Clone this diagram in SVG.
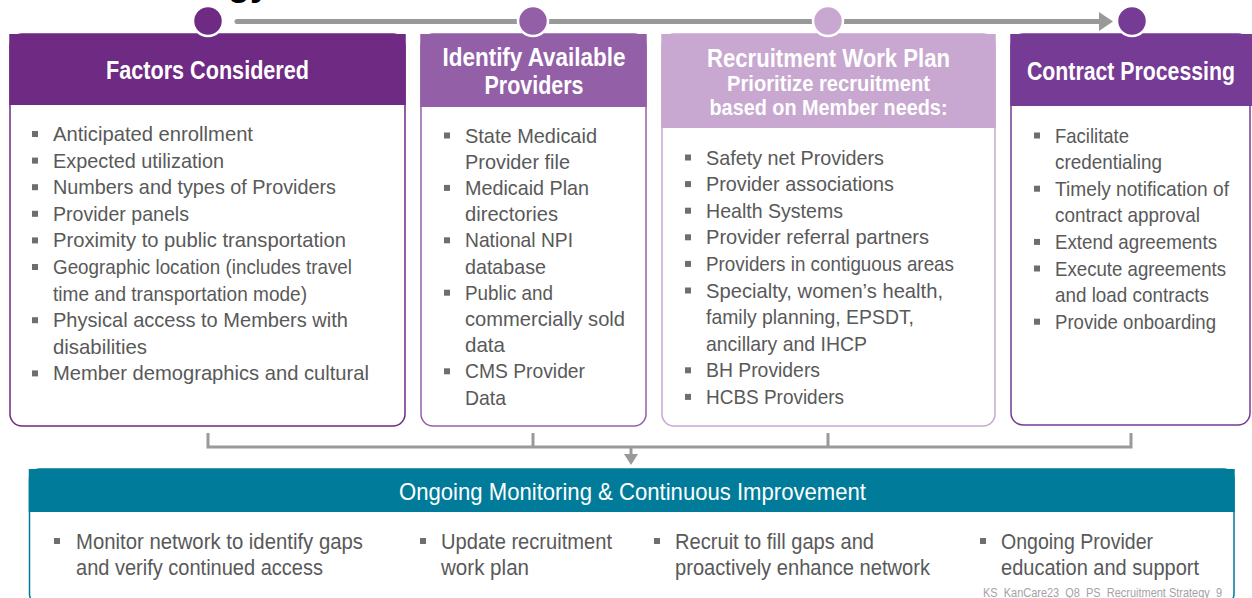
<svg xmlns="http://www.w3.org/2000/svg" width="1252" height="598" viewBox="0 0 1252 598">
  <style>
    .hd { font-family: "Liberation Sans", Arial, sans-serif; font-weight: bold; fill: #ffffff; text-anchor: middle; }
    .tx { font-family: "Liberation Sans", Arial, sans-serif; font-size: 21px; fill: #595959; }
    .bt { font-family: "Liberation Sans", Arial, sans-serif; font-size: 22px; fill: #595959; }
    .bl { fill: #6e6e6e; }
    .conn { fill: none; stroke: #9a9a9a; stroke-width: 3; }
    .dot { stroke: #ffffff; stroke-width: 2.5; }
  </style>

  <rect width="1252" height="598" fill="#ffffff"/>

  <!-- page title (mostly above the visible area) -->
  <text x="270" y="-5" text-anchor="end" font-family="Liberation Sans, Arial, sans-serif" font-weight="bold" font-size="36" fill="#000000">Strategy</text>

  <!-- connectors -->
  <g id="connectors">
    <line x1="237" y1="21.5" x2="1101" y2="21.5" stroke="#999999" stroke-width="5" stroke-linecap="round"/>
    <polygon points="1099,12 1113,21.5 1099,31" fill="#999999"/>
    <path class="conn" d="M208,433 V447 H1131 V433 M533,433 V447 M828,433 V447 M631,447 V455"/>
    <polygon points="624,454 638,454 631,465" fill="#999999"/>
  </g>

  <!-- step 1 -->
  <g id="factors">
    <rect x="10" y="34" width="395" height="392" rx="12" fill="#ffffff" stroke="#6f2a84" stroke-width="1.5"/>
    <rect x="9.25" y="34" width="396.5" height="71" fill="#6f2a84"/>
    <text class="hd" x="207.5" y="79" font-size="26" textLength="203" lengthAdjust="spacingAndGlyphs">Factors Considered</text>
    <rect class="bl" x="32" y="131" width="6" height="6"/>
    <text class="tx" x="53" y="141" textLength="200" lengthAdjust="spacingAndGlyphs">Anticipated enrollment</text>
    <rect class="bl" x="32" y="157.6" width="6" height="6"/>
    <text class="tx" x="53" y="167.6" textLength="171" lengthAdjust="spacingAndGlyphs">Expected utilization</text>
    <rect class="bl" x="32" y="184.2" width="6" height="6"/>
    <text class="tx" x="53" y="194.2" textLength="283" lengthAdjust="spacingAndGlyphs">Numbers and types of Providers</text>
    <rect class="bl" x="32" y="210.8" width="6" height="6"/>
    <text class="tx" x="53" y="220.8" textLength="136" lengthAdjust="spacingAndGlyphs">Provider panels</text>
    <rect class="bl" x="32" y="237.4" width="6" height="6"/>
    <text class="tx" x="53" y="247.4" textLength="293" lengthAdjust="spacingAndGlyphs">Proximity to public transportation</text>
    <rect class="bl" x="32" y="264" width="6" height="6"/>
    <text class="tx" x="53" y="274" textLength="299" lengthAdjust="spacingAndGlyphs">Geographic location (includes travel</text>
    <text class="tx" x="53" y="300.6" textLength="254" lengthAdjust="spacingAndGlyphs">time and transportation mode)</text>
    <rect class="bl" x="32" y="317.2" width="6" height="6"/>
    <text class="tx" x="53" y="327.2" textLength="295" lengthAdjust="spacingAndGlyphs">Physical access to Members with</text>
    <text class="tx" x="53" y="353.8" textLength="94" lengthAdjust="spacingAndGlyphs">disabilities</text>
    <rect class="bl" x="32" y="370.4" width="6" height="6"/>
    <text class="tx" x="53" y="380.4" textLength="316" lengthAdjust="spacingAndGlyphs">Member demographics and cultural</text>
    <circle class="dot" cx="208" cy="21" r="15" fill="#6f2a84"/>
  </g>

  <!-- step 2 -->
  <g id="providers">
    <rect x="421" y="34" width="225" height="392" rx="12" fill="#ffffff" stroke="#9360a8" stroke-width="1.5"/>
    <rect x="420.25" y="34" width="226.5" height="73" fill="#9360a8"/>
    <text class="hd" x="534" y="66" font-size="26" textLength="183" lengthAdjust="spacingAndGlyphs">Identify Available</text>
    <text class="hd" x="534" y="94" font-size="26" textLength="99" lengthAdjust="spacingAndGlyphs">Providers</text>
    <rect class="bl" x="444" y="132.5" width="6" height="6"/>
    <text class="tx" x="465" y="142.5" textLength="132" lengthAdjust="spacingAndGlyphs">State Medicaid</text>
    <text class="tx" x="465" y="168.7" textLength="105" lengthAdjust="spacingAndGlyphs">Provider file</text>
    <rect class="bl" x="444" y="184.9" width="6" height="6"/>
    <text class="tx" x="465" y="194.9" textLength="124" lengthAdjust="spacingAndGlyphs">Medicaid Plan</text>
    <text class="tx" x="465" y="221.1" textLength="93" lengthAdjust="spacingAndGlyphs">directories</text>
    <rect class="bl" x="444" y="237.3" width="6" height="6"/>
    <text class="tx" x="465" y="247.3" textLength="108" lengthAdjust="spacingAndGlyphs">National NPI</text>
    <text class="tx" x="465" y="273.5" textLength="81" lengthAdjust="spacingAndGlyphs">database</text>
    <rect class="bl" x="444" y="289.7" width="6" height="6"/>
    <text class="tx" x="465" y="299.7" textLength="88" lengthAdjust="spacingAndGlyphs">Public and</text>
    <text class="tx" x="465" y="325.9" textLength="160" lengthAdjust="spacingAndGlyphs">commercially sold</text>
    <text class="tx" x="465" y="352.1" textLength="40" lengthAdjust="spacingAndGlyphs">data</text>
    <rect class="bl" x="444" y="368.3" width="6" height="6"/>
    <text class="tx" x="465" y="378.3" textLength="120" lengthAdjust="spacingAndGlyphs">CMS Provider</text>
    <text class="tx" x="465" y="404.5" textLength="41" lengthAdjust="spacingAndGlyphs">Data</text>
    <circle class="dot" cx="533" cy="21" r="15" fill="#9360a8"/>
  </g>

  <!-- step 3 -->
  <g id="workplan">
    <rect x="662" y="34" width="333" height="392" rx="12" fill="#ffffff" stroke="#c8a8d0" stroke-width="1.5"/>
    <rect x="661.25" y="34" width="334.5" height="94" fill="#c8a8d0"/>
    <text class="hd" x="828.5" y="67" font-size="25" textLength="243" lengthAdjust="spacingAndGlyphs">Recruitment Work Plan</text>
    <text class="hd" x="828.5" y="91" font-size="22" textLength="203" lengthAdjust="spacingAndGlyphs">Prioritize recruitment</text>
    <text class="hd" x="828.5" y="115" font-size="22" textLength="238" lengthAdjust="spacingAndGlyphs">based on Member needs:</text>
    <rect class="bl" x="685" y="154.5" width="6" height="6"/>
    <text class="tx" x="706" y="164.5" textLength="178" lengthAdjust="spacingAndGlyphs">Safety net Providers</text>
    <rect class="bl" x="685" y="181.1" width="6" height="6"/>
    <text class="tx" x="706" y="191.1" textLength="188" lengthAdjust="spacingAndGlyphs">Provider associations</text>
    <rect class="bl" x="685" y="207.7" width="6" height="6"/>
    <text class="tx" x="706" y="217.7" textLength="137" lengthAdjust="spacingAndGlyphs">Health Systems</text>
    <rect class="bl" x="685" y="234.3" width="6" height="6"/>
    <text class="tx" x="706" y="244.3" textLength="223" lengthAdjust="spacingAndGlyphs">Provider referral partners</text>
    <rect class="bl" x="685" y="260.9" width="6" height="6"/>
    <text class="tx" x="706" y="270.9" textLength="248" lengthAdjust="spacingAndGlyphs">Providers in contiguous areas</text>
    <rect class="bl" x="685" y="287.5" width="6" height="6"/>
    <text class="tx" x="706" y="297.5" textLength="237" lengthAdjust="spacingAndGlyphs">Specialty, women’s health,</text>
    <text class="tx" x="706" y="324.1" textLength="208" lengthAdjust="spacingAndGlyphs">family planning, EPSDT,</text>
    <text class="tx" x="706" y="350.7" textLength="161" lengthAdjust="spacingAndGlyphs">ancillary and IHCP</text>
    <rect class="bl" x="685" y="367.3" width="6" height="6"/>
    <text class="tx" x="706" y="377.3" textLength="114" lengthAdjust="spacingAndGlyphs">BH Providers</text>
    <rect class="bl" x="685" y="393.9" width="6" height="6"/>
    <text class="tx" x="706" y="403.9" textLength="138" lengthAdjust="spacingAndGlyphs">HCBS Providers</text>
    <circle class="dot" cx="828" cy="21" r="15" fill="#c8a8d0"/>
  </g>

  <!-- step 4 -->
  <g id="contracts">
    <rect x="1011" y="34" width="239" height="391" rx="12" fill="#ffffff" stroke="#763b94" stroke-width="1.5"/>
    <rect x="1010.25" y="34" width="241.75" height="72" fill="#763b94"/>
    <text class="hd" x="1131" y="80" font-size="26" textLength="208" lengthAdjust="spacingAndGlyphs">Contract Processing</text>
    <rect class="bl" x="1034" y="132.5" width="6" height="6"/>
    <text class="tx" x="1055" y="142.5" textLength="74" lengthAdjust="spacingAndGlyphs">Facilitate</text>
    <text class="tx" x="1055" y="169.1" textLength="107" lengthAdjust="spacingAndGlyphs">credentialing</text>
    <rect class="bl" x="1034" y="185.7" width="6" height="6"/>
    <text class="tx" x="1055" y="195.7" textLength="174" lengthAdjust="spacingAndGlyphs">Timely notification of</text>
    <text class="tx" x="1055" y="222.3" textLength="145" lengthAdjust="spacingAndGlyphs">contract approval</text>
    <rect class="bl" x="1034" y="238.9" width="6" height="6"/>
    <text class="tx" x="1055" y="248.9" textLength="162" lengthAdjust="spacingAndGlyphs">Extend agreements</text>
    <rect class="bl" x="1034" y="265.5" width="6" height="6"/>
    <text class="tx" x="1055" y="275.5" textLength="171" lengthAdjust="spacingAndGlyphs">Execute agreements</text>
    <text class="tx" x="1055" y="302.1" textLength="154" lengthAdjust="spacingAndGlyphs">and load contracts</text>
    <rect class="bl" x="1034" y="318.7" width="6" height="6"/>
    <text class="tx" x="1055" y="328.7" textLength="161" lengthAdjust="spacingAndGlyphs">Provide onboarding</text>
    <circle class="dot" cx="1132" cy="21" r="15" fill="#763b94"/>
  </g>

  <!-- ongoing monitoring band -->
  <g id="monitoring">
    <rect x="29.5" y="469" width="1204.5" height="135" rx="10" fill="#ffffff" stroke="#007b9a" stroke-width="1.5"/>
    <rect x="28.75" y="469" width="1206" height="43" fill="#007b9a"/>
    <text x="632.5" y="500" text-anchor="middle" font-family="Liberation Sans, Arial, sans-serif" font-size="24" fill="#ffffff" textLength="467" lengthAdjust="spacingAndGlyphs">Ongoing Monitoring &amp; Continuous Improvement</text>
    <rect class="bl" x="54" y="538" width="6" height="6"/>
    <text class="bt" x="76" y="549" textLength="287" lengthAdjust="spacingAndGlyphs">Monitor network to identify gaps</text>
    <text class="bt" x="76" y="575" textLength="247" lengthAdjust="spacingAndGlyphs">and verify continued access</text>
    <rect class="bl" x="420" y="538" width="6" height="6"/>
    <text class="bt" x="441" y="549" textLength="171" lengthAdjust="spacingAndGlyphs">Update recruitment</text>
    <text class="bt" x="441" y="575" textLength="88" lengthAdjust="spacingAndGlyphs">work plan</text>
    <rect class="bl" x="654" y="538" width="6" height="6"/>
    <text class="bt" x="675" y="549" textLength="199" lengthAdjust="spacingAndGlyphs">Recruit to fill gaps and</text>
    <text class="bt" x="675" y="575" textLength="255" lengthAdjust="spacingAndGlyphs">proactively enhance network</text>
    <rect class="bl" x="980" y="538" width="6" height="6"/>
    <text class="bt" x="1001" y="549" textLength="152" lengthAdjust="spacingAndGlyphs">Ongoing Provider</text>
    <text class="bt" x="1001" y="575" textLength="198" lengthAdjust="spacingAndGlyphs">education and support</text>
  </g>

  <!-- slide footer -->
  <text x="983" y="597" xml:space="preserve" font-family="Liberation Sans, Arial, sans-serif" font-size="13" fill="#a3a3a3" textLength="239" lengthAdjust="spacingAndGlyphs">KS  KanCare23  Q8  PS  Recruitment Strategy  9</text>
</svg>
